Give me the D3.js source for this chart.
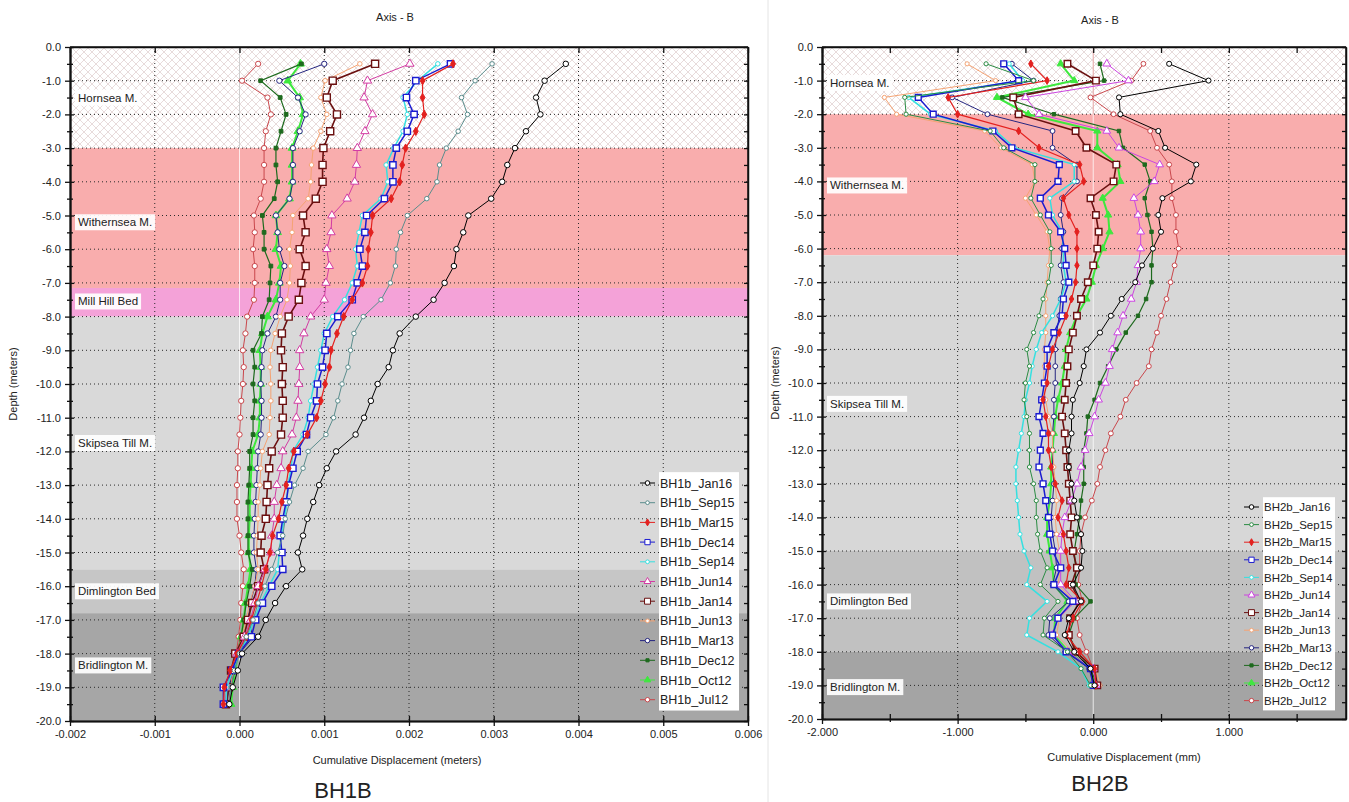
<!DOCTYPE html>
<html>
<head>
<meta charset="UTF-8" />
<title>BH1B / BH2B - Axis B cumulative displacement</title>
<style>
  body { margin: 0; background: #fff; }
  svg text { font-family: "Liberation Sans", Arial, sans-serif; fill: #222; }
</style>
</head>
<body>
<svg id="chart" width="1349" height="802"></svg>
<script src="https://d3js.org/d3.v7.min.js"></script>
<script>
// surveys, in legend order
const surveys = ["Jan16", "Sep15", "Mar15", "Dec14", "Sep14", "Jun14", "Jan14", "Jun13", "Mar13", "Dec12", "Oct12", "Jul12"];

// ---------- BH1B : depth (m) and displacement read in mm (axis is in metres) ----------
const bh1Depths = [-0.5, -1, -1.5, -2, -2.5, -3, -3.5, -4, -4.5, -5, -5.5, -6, -6.5, -7, -7.5, -8,
  -8.5, -9, -9.5, -10, -10.5, -11, -11.5, -12, -12.5, -13, -13.5, -14, -14.5, -15, -15.5,
  -16, -16.5, -17, -17.5, -18, -18.5, -19, -19.5];

const bh1Jan16 = [3.85, 3.6, 3.5, 3.55, 3.38, 3.25, 3.16, 3.1, 2.97, 2.7, 2.64, 2.56, 2.53, 2.42, 2.29, 2.08,
  1.89, 1.81, 1.76, 1.63, 1.55, 1.47, 1.37, 1.14, 1.03, 0.94, 0.87, 0.80, 0.75, 0.69, 0.74,
  0.55, 0.42, 0.31, 0.22, 0.03, -0.02, -0.08, -0.12];
const bh1Sep15 = [2.98, 2.78, 2.62, 2.69, 2.58, 2.44, 2.36, 2.33, 2.21, 1.98, 1.90, 1.85, 1.84, 1.78, 1.67, 1.46,
  1.35, 1.31, 1.28, 1.21, 1.16, 1.11, 1.02, 0.81, 0.75, 0.65, 0.59, 0.54, 0.51, 0.45, 0.38,
  0.30, 0.22, 0.16, 0.08, 0.0, -0.06, -0.10, -0.12];
const bh1Mar15 = [2.52, 2.16, 2.16, 2.18, 2.08, 1.96, 1.92, 1.89, 1.79, 1.57, 1.55, 1.52, 1.51, 1.45, 1.33, 1.23,
  1.15, 1.08, 1.06, 1.01, 0.96, 0.91, 0.80, 0.64, 0.58, 0.55, 0.50, 0.46, 0.39, 0.36, 0.31,
  0.26, 0.20, 0.14, 0.08, -0.03, -0.11, -0.18, -0.19];
const bh1Dec14 = [2.49, 2.08, 1.97, 2.06, 1.98, 1.85, 1.81, 1.81, 1.71, 1.50, 1.48, 1.42, 1.45, 1.39, 1.33, 1.16,
  1.03, 1.01, 0.98, 0.92, 0.91, 0.84, 0.79, 0.68, 0.63, 0.58, 0.55, 0.51, 0.48, 0.50, 0.51,
  0.38, 0.27, 0.19, 0.14, -0.01, -0.09, -0.19, -0.19];
const bh1Sep14 = [2.34, 2.10, 1.93, 1.98, 1.93, 1.82, 1.73, 1.75, 1.67, 1.45, 1.41, 1.37, 1.39, 1.33, 1.24, 1.10,
  1.00, 0.96, 0.92, 0.88, 0.84, 0.81, 0.75, 0.63, 0.61, 0.57, 0.56, 0.53, 0.49, 0.47, 0.45,
  0.35, 0.25, 0.17, 0.10, 0.0, -0.08, -0.15, -0.16];
const bh1Jun14 = [2.01, 1.51, 1.47, 1.57, 1.48, 1.39, 1.38, 1.36, 1.27, 1.09, 1.08, 1.03, 1.06, 1.02, 1.00, 0.84,
  0.76, 0.71, 0.71, 0.70, 0.69, 0.67, 0.62, 0.51, 0.49, 0.44, 0.41, 0.41, 0.38, 0.37, 0.30,
  0.22, 0.18, 0.13, 0.06, -0.03, -0.08, -0.14, -0.18];
const bh1Jan14 = [1.60, 1.10, 1.03, 1.15, 1.07, 0.99, 0.98, 0.98, 0.90, 0.75, 0.78, 0.71, 0.78, 0.73, 0.70, 0.58,
  0.50, 0.49, 0.51, 0.50, 0.51, 0.51, 0.49, 0.38, 0.35, 0.33, 0.32, 0.31, 0.26, 0.25, 0.29,
  0.22, 0.15, 0.10, 0.05, -0.05, -0.10, -0.13, -0.16];
const bh1Jun13 = [1.42, 1.01, 0.96, 1.03, 0.96, 0.87, 0.85, 0.84, 0.81, 0.63, 0.62, 0.59, 0.60, 0.59, 0.56, 0.48,
  0.42, 0.37, 0.36, 0.37, 0.37, 0.36, 0.35, 0.27, 0.25, 0.24, 0.22, 0.22, 0.21, 0.20, 0.22,
  0.18, 0.12, 0.08, 0.03, -0.04, -0.08, -0.10, -0.12];
const bh1Mar13 = [1.00, 0.47, 0.69, 0.78, 0.71, 0.63, 0.63, 0.63, 0.59, 0.43, 0.45, 0.47, 0.53, 0.48, 0.48, 0.43,
  0.33, 0.27, 0.26, 0.25, 0.26, 0.26, 0.25, 0.22, 0.21, 0.20, 0.19, 0.18, 0.17, 0.17, 0.20,
  0.18, 0.13, 0.10, 0.16, 0.0, -0.08, -0.12, -0.15];
const bh1Dec12 = [0.73, 0.25, 0.48, 0.55, 0.49, 0.43, 0.43, 0.45, 0.41, 0.27, 0.29, 0.29, 0.37, 0.36, 0.35, 0.27,
  0.26, 0.16, 0.18, 0.16, 0.18, 0.16, 0.16, 0.12, 0.12, 0.11, 0.10, 0.10, 0.10, 0.10, 0.15,
  0.12, 0.08, 0.05, 0.02, -0.03, -0.06, -0.10, -0.12];
const bh1Oct12 = [0.72, 0.57, 0.71, 0.75, 0.69, 0.62, 0.62, 0.62, 0.59, 0.43, 0.45, 0.43, 0.49, 0.47, 0.43, 0.33,
  0.27, 0.24, 0.25, 0.25, 0.24, 0.24, 0.22, 0.15, 0.14, 0.13, 0.12, 0.12, 0.11, 0.11, 0.13,
  0.10, 0.07, 0.05, 0.02, -0.02, -0.05, -0.08, -0.10];
const bh1Jul12 = [0.22, 0.03, 0.33, 0.37, 0.31, 0.29, 0.29, 0.29, 0.25, 0.17, 0.18, 0.16, 0.18, 0.18, 0.17, 0.09,
  0.07, 0.04, 0.05, 0.04, 0.02, 0.01, 0.00, -0.02, -0.02, -0.03, -0.03, -0.03, 0.00, 0.02, 0.05,
  0.04, 0.02, 0.01, -0.01, -0.04, -0.08, -0.10, -0.13];

const bh1Layers = ["Hornsea M.", "Withernsea M.", "Mill Hill Bed", "Skipsea Till M.", "Dimlington Bed", "Bridlington M."];
const bh1LayerTop = [0, -3, -7.15, -8, -15.5, -16.8];
const bh1LayerBase = [-3, -7.15, -8, -15.5, -16.8, -20];
const bh1LabelDepth = [-1.5, -5.2, -7.55, -11.75, -16.15, -18.35];
const bh1XTicks = [-0.002, -0.001, 0, 0.001, 0.002, 0.003, 0.004, 0.005, 0.006];

// ---------- BH2B : depth (m) and displacement (mm) ----------
const bh2Depths = [-0.5, -1, -1.5, -2, -2.5, -3, -3.5, -4, -4.5, -5, -5.5, -6, -6.5, -7, -7.5, -8,
  -8.5, -9, -9.5, -10, -10.5, -11, -11.5, -12, -12.5, -13, -13.5, -14, -14.5, -15, -15.5,
  -16, -16.5, -17, -17.5, -18, -18.5, -19];

const bh2Jan16 = [0.56, 0.85, 0.19, 0.20, 0.48, 0.53, 0.76, 0.72, 0.51, 0.48, 0.50, 0.44, 0.36, 0.31, 0.21, 0.13,
  0.05, -0.05, -0.07, -0.10, -0.15, -0.16, -0.16, -0.18, -0.18, -0.16, -0.14, -0.12, -0.09, -0.08, -0.09,
  -0.15, -0.09, -0.18, -0.21, -0.14, -0.02, 0.01];
const bh2Sep15 = [-0.79, -0.44, -1.39, -1.38, -0.76, -0.66, -0.43, -0.43, -0.46, -0.39, -0.32, -0.31, -0.31, -0.33, -0.37, -0.40,
  -0.44, -0.49, -0.47, -0.50, -0.51, -0.49, -0.47, -0.47, -0.47, -0.44, -0.42, -0.42, -0.41, -0.39, -0.34,
  -0.39, -0.26, -0.36, -0.37, -0.19, -0.09, -0.02];
const bh2Mar15 = [-0.46, -0.34, -1.07, -1.00, -0.55, -0.40, -0.10, -0.07, -0.22, -0.18, -0.12, -0.12, -0.12, -0.13, -0.16, -0.20,
  -0.25, -0.30, -0.33, -0.34, -0.37, -0.35, -0.33, -0.33, -0.31, -0.28, -0.23, -0.26, -0.22, -0.20, -0.18,
  -0.20, -0.08, -0.15, -0.20, -0.10, 0.01, 0.02];
const bh2Dec14 = [-0.66, -0.55, -1.29, -1.18, -0.74, -0.60, -0.25, -0.26, -0.39, -0.33, -0.24, -0.21, -0.20, -0.18, -0.22, -0.23,
  -0.29, -0.34, -0.34, -0.36, -0.38, -0.40, -0.37, -0.39, -0.40, -0.37, -0.35, -0.33, -0.32, -0.30, -0.24,
  -0.29, -0.15, -0.26, -0.30, -0.20, -0.02, 0.00];
const bh2Sep14 = [-0.62, -0.52, -1.36, -1.20, -0.72, -0.58, -0.14, -0.14, -0.32, -0.30, -0.23, -0.22, -0.22, -0.20, -0.24, -0.30,
  -0.38, -0.42, -0.45, -0.47, -0.50, -0.51, -0.53, -0.55, -0.57, -0.57, -0.56, -0.55, -0.54, -0.51, -0.46,
  -0.49, -0.34, -0.47, -0.49, -0.26, -0.09, -0.03];
const bh2Jun14 = [0.10, 0.26, -0.50, -0.40, 0.10, 0.19, 0.49, 0.45, 0.30, 0.33, 0.35, 0.35, 0.33, 0.32, 0.28, 0.22,
  0.18, 0.14, 0.12, 0.09, 0.04, 0.01, -0.03, -0.06, -0.09, -0.12, -0.16, -0.21, -0.23, -0.24, -0.24,
  -0.24, -0.13, -0.26, -0.30, -0.19, 0.00, 0.02];
const bh2Jan14 = [-0.19, 0.02, -0.59, -0.55, -0.13, -0.05, 0.17, 0.15, -0.02, 0.02, 0.04, 0.03, 0.00, -0.04, -0.09, -0.12,
  -0.15, -0.18, -0.19, -0.20, -0.21, -0.23, -0.21, -0.20, -0.19, -0.18, -0.17, -0.16, -0.17, -0.15, -0.12,
  -0.16, -0.10, -0.17, -0.18, -0.13, 0.01, 0.03];
const bh2Jun13 = [-0.93, -0.72, -1.54, -1.45, -0.80, -0.68, -0.45, -0.43, -0.50, -0.42, -0.34, -0.32, -0.33, -0.34, -0.35, -0.35,
  -0.35, -0.36, -0.36, -0.37, -0.35, -0.33, -0.30, -0.30, -0.29, -0.28, -0.27, -0.28, -0.27, -0.25, -0.24,
  -0.26, -0.14, -0.25, -0.27, -0.15, 0.02, 0.05];
const bh2Mar13 = [-0.60, -0.44, -1.04, -0.78, -0.30, -0.30, -0.12, -0.12, -0.23, -0.24, -0.22, -0.23, -0.24, -0.22, -0.24, -0.25,
  -0.27, -0.28, -0.28, -0.28, -0.29, -0.29, -0.30, -0.30, -0.30, -0.29, -0.30, -0.31, -0.30, -0.28, -0.27,
  -0.30, -0.18, -0.32, -0.33, -0.20, -0.03, 0.00];
const bh2Dec12 = [0.05, 0.08, -0.67, -0.29, 0.19, 0.22, 0.38, 0.42, 0.38, 0.40, 0.43, 0.44, 0.43, 0.43, 0.39, 0.33,
  0.24, 0.17, 0.11, 0.05, 0.01, -0.04, -0.05, -0.07, -0.07, -0.07, -0.09, -0.10, -0.12, -0.14, -0.13,
  -0.13, -0.02, -0.14, -0.18, -0.12, -0.02, 0.03];
const bh2Oct12 = [-0.24, -0.14, -0.71, -0.48, 0.03, 0.03, 0.18, 0.20, 0.07, 0.11, 0.12, 0.07, 0.02, -0.01, -0.05, -0.12,
  -0.17, -0.20, -0.21, -0.23, -0.26, -0.28, -0.29, -0.30, -0.31, -0.31, -0.32, -0.34, -0.34, -0.32, -0.30,
  -0.29, -0.19, -0.28, -0.29, -0.18, -0.02, 0.01];
const bh2Jul12 = [0.37, 0.28, -0.02, 0.15, 0.42, 0.47, 0.56, 0.58, 0.58, 0.61, 0.61, 0.63, 0.60, 0.57, 0.54, 0.50,
  0.47, 0.43, 0.41, 0.32, 0.24, 0.20, 0.13, 0.09, 0.05, 0.03, -0.01, -0.06, -0.09, -0.10, -0.10,
  -0.11, -0.08, -0.12, -0.10, -0.05, 0.00, 0.03];

const bh2Layers = ["Hornsea M.", "Withernsea M.", "Skipsea Till M.", "Dimlington Bed", "Bridlington M."];
const bh2LayerTop = [0, -2, -6.2, -15, -18];
const bh2LayerBase = [-2, -6.2, -15, -18, -20];
const bh2LabelDepth = [-1.07, -4.12, -10.62, -16.5, -19.05];
const bh2XTicks = [-2, -1, 0, 1];
const bh2XMinor = [-1.5, -0.5, 0.5, 1.5];

// ---------- styles ----------
const bh1Colors = ["#000000", "#5b8d8d", "#e3211f", "#1b1bd0", "#35e0e0", "#d33ca3", "#6b1010", "#f5a373", "#262680", "#1e6a1e", "#3ee83e", "#c9474c"];
const bh2Colors = ["#000000", "#2c8c44", "#e3211f", "#1b1bd0", "#35e0e0", "#cc45e0", "#6b1010", "#f5a373", "#262680", "#1e6a1e", "#3ee83e", "#c9474c"];
const markerShapes = ["circle", "circle", "diamond", "square", "circle", "triangle", "square", "circle", "circle", "square", "triangle", "circle"];
const markerFilled = [false, false, true, false, false, false, false, false, false, true, true, false];
const markerSizes = [24, 16, 20, 40, 16, 30, 50, 16, 22, 14, 26, 22];
const lineWidths = [1, 1, 1.2, 1.5, 1.5, 1, 1.6, 1, 1, 1.2, 2, 1];
const bh1Fills = ["url(#hatch)", "#f9adad", "#f4a2d8", "#d9d9d9", "#c6c6c6", "#a6a6a6"];
const bh2Fills = ["url(#hatch)", "#f9adad", "#d7d7d7", "#c1c1c1", "#a4a4a4"];

const svg = d3.select("#chart");
const defs = svg.append("defs");

const hatch = defs.append("pattern")
  .attr("id", "hatch")
  .attr("patternUnits", "userSpaceOnUse")
  .attr("width", 8).attr("height", 8);
hatch.append("rect").attr("width", 8).attr("height", 8).attr("fill", "#ffffff");
hatch.append("path")
  .attr("d", "M0,0 L8,8 M8,0 L0,8")
  .attr("stroke", "#e2d2d2")
  .attr("stroke-width", 0.8);

// separator between the two screenshots
svg.append("line")
  .attr("x1", 768).attr("x2", 768).attr("y1", 0).attr("y2", 802)
  .attr("stroke", "#e4e4e4");

const symbolTypes = {
  circle: d3.symbolCircle,
  square: d3.symbolSquare,
  triangle: d3.symbolTriangle,
  diamond: d3.symbolDiamond
};

function drawPanel(p) {
  const x = d3.scaleLinear().domain(p.xDomain).range([p.left, p.right]);
  const y = d3.scaleLinear().domain([0, -20]).range([p.top, p.bottom]);
  const g = svg.append("g");

  defs.append("clipPath").attr("id", p.id + "-clip")
    .append("rect")
    .attr("x", p.left).attr("y", p.top)
    .attr("width", p.right - p.left).attr("height", p.bottom - p.top);

  // geological layers
  g.selectAll("rect.layer")
    .data(p.layerTop)
    .enter()
    .append("rect")
    .attr("class", "layer")
    .attr("x", p.left)
    .attr("width", p.right - p.left)
    .attr("y", d => y(d))
    .attr("height", (d, i) => y(p.layerBase[i]) - y(d))
    .attr("fill", (d, i) => p.fills[i]);

  // zero line
  g.append("line")
    .attr("x1", x(0)).attr("x2", x(0))
    .attr("y1", p.top).attr("y2", p.bottom)
    .attr("stroke", "rgba(255,255,255,0.75)");
  g.append("line")
    .attr("x1", x(0)).attr("x2", x(0))
    .attr("y1", p.top).attr("y2", y(p.layerBase[0]))
    .attr("stroke", p.zeroTopColor);

  // dotted grid
  const grid = g.append("g")
    .attr("stroke", "#2a2a2a")
    .attr("stroke-width", 1)
    .attr("stroke-dasharray", "1,3");
  grid.selectAll("line.h")
    .data(d3.range(-1, -20, -1))
    .enter()
    .append("line")
    .attr("x1", p.left).attr("x2", p.right)
    .attr("y1", d => y(d)).attr("y2", d => y(d));
  grid.selectAll("line.v")
    .data(p.xTicks.filter(d => d !== 0 && d > p.xDomain[0] && d < p.xDomain[1]))
    .enter()
    .append("line")
    .attr("x1", d => x(d)).attr("x2", d => x(d))
    .attr("y1", p.top).attr("y2", p.bottom);

  // survey profiles
  const plot = g.append("g").attr("clip-path", `url(#${p.id}-clip)`);
  const line = d3.line()
    .x(d => x(d.v))
    .y(d => y(d.depth));

  const order = d3.range(p.series.length).reverse();
  order.forEach(i => {
    const pts = p.series[i].map((v, k) => ({ v: v * p.unit, depth: p.depths[k] }));
    const col = p.colors[i];
    plot.append("path")
      .datum(pts)
      .attr("fill", "none")
      .attr("stroke", col)
      .attr("stroke-width", lineWidths[i])
      .attr("d", line);
    const sym = d3.symbol().type(symbolTypes[markerShapes[i]]).size(markerSizes[i] * p.markerScale);
    plot.selectAll(null)
      .data(pts)
      .enter()
      .append("path")
      .attr("transform", d => `translate(${x(d.v)},${y(d.depth)})`)
      .attr("d", sym)
      .attr("fill", markerFilled[i] ? col : "#ffffff")
      .attr("stroke", col)
      .attr("stroke-width", markerShapes[i] === "square" && !markerFilled[i] ? 1.4 : 1);
  });

  // layer names
  p.layers.forEach((name, i) => {
    const t = g.append("text")
      .attr("x", p.left + 8)
      .attr("y", y(p.labelDepth[i]))
      .attr("dy", "0.35em")
      .attr("font-size", 11.5)
      .text(name);
    const b = t.node().getBBox();
    g.insert("rect", () => t.node())
      .attr("x", b.x - 3).attr("y", b.y - 2)
      .attr("width", b.width + 6).attr("height", b.height + 4)
      .attr("fill", "#ffffff")
      .attr("opacity", 0.92);
  });

  // axes
  const fmtY = d => d.toFixed(1);
  const axes = g.append("g");
  const halfSteps = d3.range(-0.5, -20, -1);

  const yAxis = axes.append("g")
    .attr("transform", `translate(${p.left},0)`)
    .call(d3.axisLeft(y).tickValues(d3.range(0, -20.5, -1)).tickFormat(fmtY).tickSize(5).tickPadding(4).tickSizeOuter(0));
  axes.append("g")
    .attr("transform", `translate(${p.left},0)`)
    .call(d3.axisRight(y).tickValues(d3.range(0, -20.5, -1)).tickFormat("").tickSize(4).tickSizeOuter(0));
  axes.append("g")
    .attr("transform", `translate(${p.left},0)`)
    .call(d3.axisLeft(y).tickValues(halfSteps).tickFormat("").tickSize(3).tickSizeOuter(0));
  axes.append("g")
    .attr("transform", `translate(${p.left},0)`)
    .call(d3.axisRight(y).tickValues(halfSteps).tickFormat("").tickSize(3).tickSizeOuter(0));
  // right edge, inward ticks
  axes.append("g")
    .attr("transform", `translate(${p.right},0)`)
    .call(d3.axisLeft(y).tickValues(d3.range(0, -20.5, -0.5)).tickFormat("").tickSize(4).tickSizeOuter(0));

  const xAll = p.xTicks.concat(p.xMinor);
  axes.append("g")
    .attr("transform", `translate(0,${p.bottom})`)
    .call(d3.axisBottom(x).tickValues(p.xTicks).tickFormat(p.fmtX).tickSize(5).tickPadding(4).tickSizeOuter(0));
  axes.append("g")
    .attr("transform", `translate(0,${p.bottom})`)
    .call(d3.axisTop(x).tickValues(xAll).tickFormat("").tickSize(5).tickSizeOuter(0));
  axes.append("g")
    .attr("transform", `translate(0,${p.bottom})`)
    .call(d3.axisBottom(x).tickValues(p.xMinor).tickFormat("").tickSize(3).tickSizeOuter(0));
  axes.append("g")
    .attr("transform", `translate(0,${p.top})`)
    .call(d3.axisBottom(x).tickValues(xAll).tickFormat("").tickSize(6).tickSizeOuter(0));

  axes.selectAll(".domain").attr("stroke", "#111").attr("stroke-width", 1.5);
  axes.selectAll(".tick line").attr("stroke", "#111").attr("stroke-width", 1.3);
  axes.selectAll(".tick text")
    .attr("font-family", "Liberation Sans, Arial, sans-serif")
    .attr("font-size", 11)
    .attr("fill", "#222");

  // top border across the panel
  axes.append("line")
    .attr("x1", p.left).attr("x2", p.right)
    .attr("y1", p.top).attr("y2", p.top)
    .attr("stroke", "#111").attr("stroke-width", 1.5);
  axes.append("line")
    .attr("x1", p.right).attr("x2", p.right)
    .attr("y1", p.top).attr("y2", p.bottom)
    .attr("stroke", "#111").attr("stroke-width", 1.5);

  // legend
  const lg = g.append("g");
  lg.append("rect")
    .attr("x", p.legend.x + 19).attr("y", p.legend.y - p.legend.step / 2 - 1)
    .attr("width", p.legend.w).attr("height", p.legend.step * surveys.length + 2)
    .attr("fill", "#ffffff");
  surveys.forEach((s, i) => {
    const ly = p.legend.y + i * p.legend.step;
    const col = p.colors[i];
    lg.append("line")
      .attr("x1", p.legend.x).attr("x2", p.legend.x + 15)
      .attr("y1", ly).attr("y2", ly)
      .attr("stroke", col).attr("stroke-width", 1);
    lg.append("path")
      .attr("transform", `translate(${p.legend.x + 7.5},${ly})`)
      .attr("d", d3.symbol().type(symbolTypes[markerShapes[i]]).size(markerSizes[i] * 0.7)())
      .attr("fill", markerFilled[i] ? col : "#ffffff")
      .attr("stroke", col);
    lg.append("text")
      .attr("x", p.legend.x + 20)
      .attr("y", ly)
      .attr("dy", "0.36em")
      .attr("font-size", p.legend.fontSize)
      .text(p.prefix + s);
  });

  // titles
  g.append("text")
    .attr("x", p.topTitle[0]).attr("y", p.topTitle[1])
    .attr("text-anchor", "middle").attr("font-size", 11)
    .text("Axis - B");
  g.append("text")
    .attr("transform", `translate(${p.yTitleX},${(p.top + p.bottom) / 2}) rotate(-90)`)
    .attr("text-anchor", "middle").attr("font-size", 11)
    .text("Depth (meters)");
  g.append("text")
    .attr("x", p.xTitle[0]).attr("y", p.xTitle[1])
    .attr("text-anchor", "middle").attr("font-size", 11)
    .text(p.xTitleText);
  g.append("text")
    .attr("x", p.caption[0]).attr("y", p.caption[1])
    .attr("text-anchor", "middle").attr("font-size", 22)
    .attr("fill", "#333")
    .text(p.captionText);
}

drawPanel({
  id: "bh1",
  left: 70, right: 748, top: 47, bottom: 721,
  xDomain: [-0.002, 0.006],
  unit: 0.001,
  xTicks: bh1XTicks,
  xMinor: [],
  fmtX: d => d.toFixed(3),
  depths: bh1Depths,
  series: [bh1Jan16, bh1Sep15, bh1Mar15, bh1Dec14, bh1Sep14, bh1Jun14, bh1Jan14, bh1Jun13, bh1Mar13, bh1Dec12, bh1Oct12, bh1Jul12],
  colors: bh1Colors,
  markerScale: 1,
  layers: bh1Layers, layerTop: bh1LayerTop, layerBase: bh1LayerBase, labelDepth: bh1LabelDepth,
  fills: bh1Fills,
  zeroTopColor: "#cfcfcf",
  legend: { x: 640, y: 483, step: 19.7, w: 80, fontSize: 12.5 },
  prefix: "BH1b_",
  topTitle: [395, 21],
  yTitleX: 17,
  xTitle: [397, 764],
  xTitleText: "Cumulative Displacement (meters)",
  caption: [343, 798],
  captionText: "BH1B"
});

drawPanel({
  id: "bh2",
  left: 822, right: 1346, top: 47, bottom: 719,
  xDomain: [-2, 1.864],
  unit: 1,
  xTicks: bh2XTicks,
  xMinor: bh2XMinor,
  fmtX: d => d.toFixed(3),
  depths: bh2Depths,
  series: [bh2Jan16, bh2Sep15, bh2Mar15, bh2Dec14, bh2Sep14, bh2Jun14, bh2Jan14, bh2Jun13, bh2Mar13, bh2Dec12, bh2Oct12, bh2Jul12],
  colors: bh2Colors,
  markerScale: 0.85,
  layers: bh2Layers, layerTop: bh2LayerTop, layerBase: bh2LayerBase, labelDepth: bh2LabelDepth,
  fills: bh2Fills,
  zeroTopColor: "#e3a3a3",
  legend: { x: 1244, y: 507, step: 17.6, w: 72, fontSize: 11.5 },
  prefix: "BH2b_",
  topTitle: [1100, 24],
  yTitleX: 779,
  xTitle: [1124, 761],
  xTitleText: "Cumulative Displacement (mm)",
  caption: [1100, 791],
  captionText: "BH2B"
});
</script>
</body>
</html>
